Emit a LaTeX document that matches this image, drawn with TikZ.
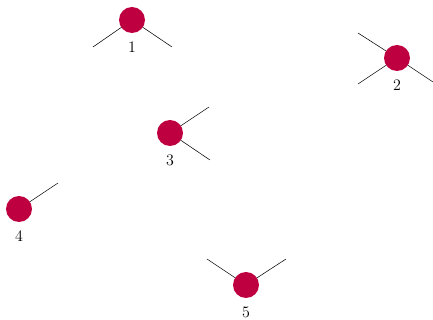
\documentclass[tikz,border=0pt]{standalone}
\usepackage{tikz}
\usetikzlibrary{positioning}
\tikzset{
  vertex/.style = {circle, fill=purple, minimum size=19.5pt, inner sep=0pt},
  stub/.style   = {thin, draw=black},
  num/.style    = {font=\large, inner sep=0pt},
}

\begin{document}
\begin{tikzpicture}[x=0.75pt, y=-0.75pt]
  \useasboundingbox (0,0) rectangle (433,320);

  % free ends of the stubs
  \coordinate (a1) at (93,47);
  \coordinate (b1) at (172,47);
  \coordinate (a2) at (358,33);
  \coordinate (b2) at (358,84);
  \coordinate (c2) at (433,82);
  \coordinate (a3) at (209,107);
  \coordinate (b3) at (210,160);
  \coordinate (a4) at (58,183);
  \coordinate (a5) at (207,259);
  \coordinate (b5) at (286,259);

  % vertices
  \coordinate (p1) at (132,20);
  \coordinate (p2) at (397,58);
  \coordinate (p3) at (170,133);
  \coordinate (p4) at (19,209);
  \coordinate (p5) at (246,285);

  % stubs first, so the discs sit on top
  \draw[stub] (p1) -- (a1);
  \draw[stub] (p1) -- (b1);
  \draw[stub] (p2) -- (a2);
  \draw[stub] (p2) -- (b2);
  \draw[stub] (p2) -- (c2);
  \draw[stub] (p3) -- (a3);
  \draw[stub] (p3) -- (b3);
  \draw[stub] (p4) -- (a4);
  \draw[stub] (p5) -- (a5);
  \draw[stub] (p5) -- (b5);

  \node[vertex] (v1) at (p1) {};
  \node[vertex] (v2) at (p2) {};
  \node[vertex] (v3) at (p3) {};
  \node[vertex] (v4) at (p4) {};
  \node[vertex] (v5) at (p5) {};

  % numbers under the discs
  \node[num, below=6pt of v1] (n1) {1};
  \node[num, below=6pt of v2] (n2) {2};
  \node[num, below=6pt of v3] (n3) {3};
  \node[num, below=6pt of v4] (n4) {4};
  \node[num, below=6pt of v5] (n5) {5};

\end{tikzpicture}
\end{document}
